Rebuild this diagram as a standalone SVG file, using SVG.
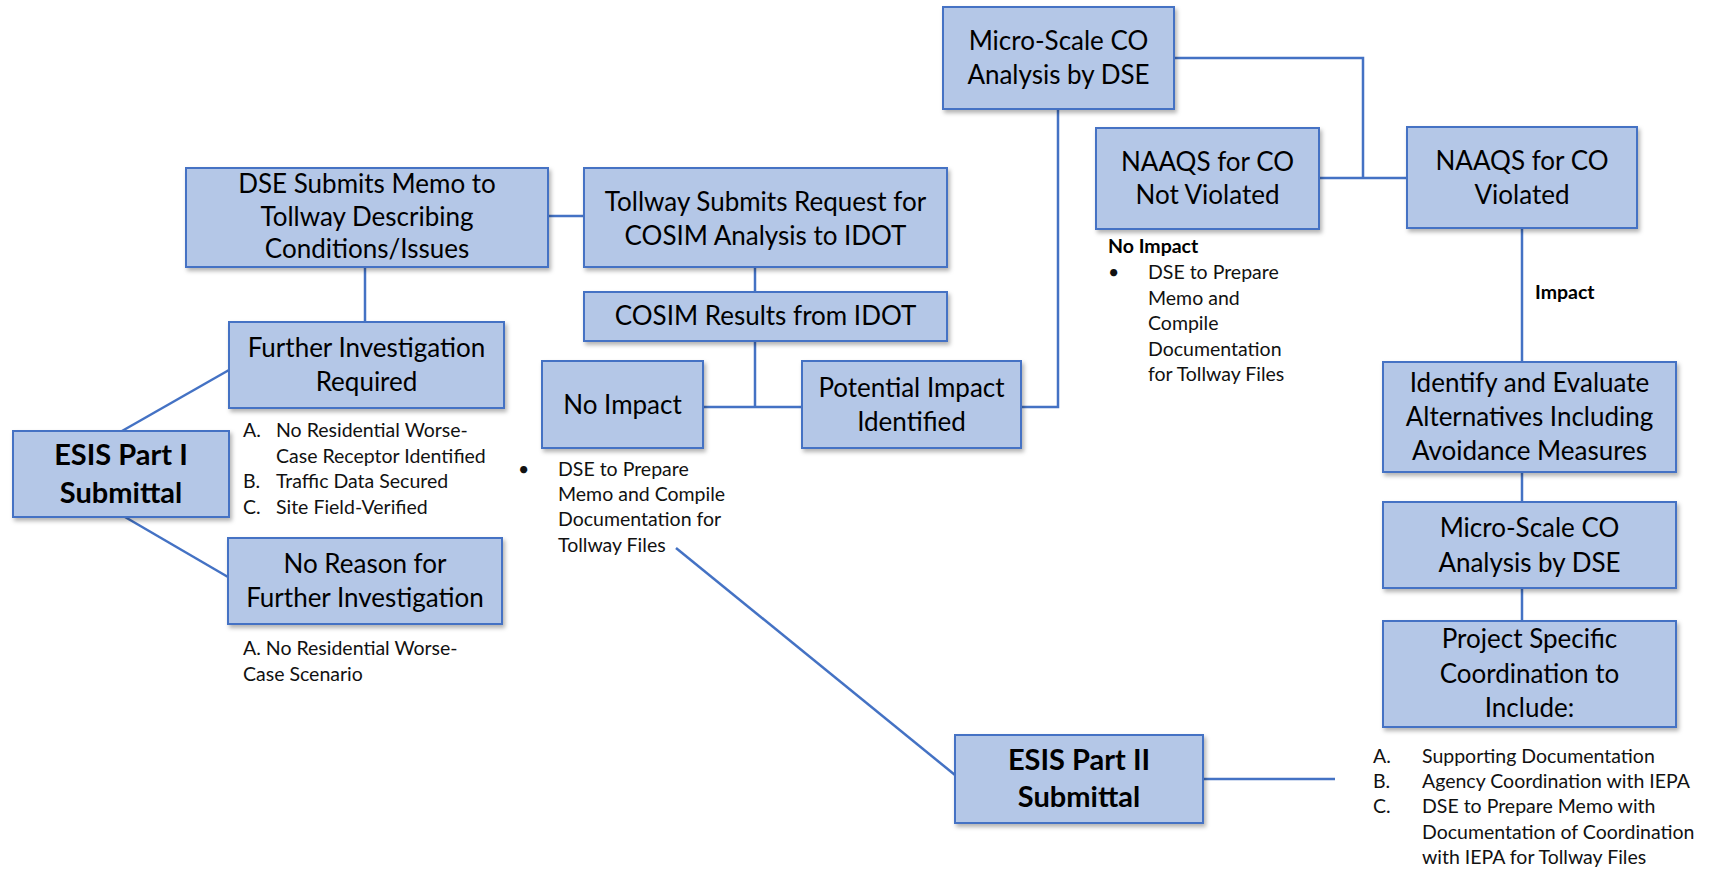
<svg xmlns="http://www.w3.org/2000/svg" width="1713" height="869" viewBox="0 0 1713 869">
<style>
.box{fill:#B4C7E7;stroke:#4472C4;stroke-width:2;filter:url(#sh)}
.bt{font-family:Lato,"Open Sans",sans-serif;font-size:26px;fill:#000;text-anchor:middle}
.bb{font-family:Lato,"Open Sans",sans-serif;font-size:29px;font-weight:bold;fill:#000;text-anchor:middle}
.lt{font-family:Lato,"Open Sans",sans-serif;font-size:19.5px;fill:#111}
.lb{font-family:Lato,"Open Sans",sans-serif;font-size:19.5px;font-weight:bold;fill:#000}
.cn{fill:none;stroke:#4472C4;stroke-width:2.5}
</style>
<defs>
<filter id="sh" x="-10%" y="-10%" width="125%" height="130%">
<feDropShadow dx="2" dy="3" stdDeviation="2" flood-color="#000" flood-opacity="0.3"/>
</filter>
</defs>
<rect width="1713" height="869" fill="#fff"/>
<g id="connectors">
<path class="cn" d="M548 216 H584"/>
<path class="cn" d="M365 267 V322"/>
<path class="cn" d="M122 431 L229 370"/>
<path class="cn" d="M125 517 L228 577"/>
<path class="cn" d="M755 267 V292"/>
<path class="cn" d="M755 341 V407"/>
<path class="cn" d="M703 407 H802"/>
<path class="cn" d="M1021 407 H1058 V109"/>
<path class="cn" d="M1174 58 H1363 V178"/>
<path class="cn" d="M1319 178 H1407"/>
<path class="cn" d="M1522 228 V362"/>
<path class="cn" d="M1522 472 V502"/>
<path class="cn" d="M1522 588 V621"/>
<path class="cn" d="M676 548 L955 775"/>
<path class="cn" d="M1203 779 H1335"/>
</g>
<g id="dse-memo">
<rect class="box" x="186" y="168" width="362" height="99"/>
<text class="bt" x="367" y="193">DSE Submits Memo to</text>
<text class="bt" x="367" y="226">Tollway Describing</text>
<text class="bt" x="367" y="258">Conditions/Issues</text>
</g>
<g id="tollway-request">
<rect class="box" x="584" y="168" width="363" height="99"/>
<text class="bt" x="765.5" y="211">Tollway Submits Request for</text>
<text class="bt" x="765.5" y="245">COSIM Analysis to IDOT</text>
</g>
<g id="cosim-results">
<rect class="box" x="584" y="292" width="363" height="49"/>
<text class="bt" x="765.5" y="325">COSIM Results from IDOT</text>
</g>
<g id="further-investigation">
<rect class="box" x="229" y="322" width="275" height="86"/>
<text class="bt" x="366.5" y="357">Further Investigation</text>
<text class="bt" x="366.5" y="391">Required</text>
<text class="lt" x="243" y="437">A.</text><text class="lt" x="276" y="437">No Residential Worse-</text>
<text class="lt" x="276" y="463">Case Receptor Identified</text>
<text class="lt" x="243" y="488">B.</text><text class="lt" x="276" y="488">Traffic Data Secured</text>
<text class="lt" x="243" y="514">C.</text><text class="lt" x="276" y="514">Site Field-Verified</text>
</g>
<g id="esis-part-1">
<rect class="box" x="13" y="431" width="216" height="86"/>
<text class="bb" x="121" y="465">ESIS Part I</text>
<text class="bb" x="121" y="503">Submittal</text>
</g>
<g id="no-reason">
<rect class="box" x="228" y="538" width="274" height="86"/>
<text class="bt" x="365" y="573">No Reason for</text>
<text class="bt" x="365" y="607">Further Investigation</text>
<text class="lt" x="243" y="655">A. No Residential Worse-</text>
<text class="lt" x="243" y="681">Case Scenario</text>
</g>
<g id="no-impact">
<rect class="box" x="542" y="361" width="161" height="87"/>
<text class="bt" x="622.5" y="414">No Impact</text>
<text class="lt" x="518" y="476">•</text>
<text class="lt" x="558" y="476">DSE to Prepare</text>
<text class="lt" x="558" y="501">Memo and Compile</text>
<text class="lt" x="558" y="526">Documentation for</text>
<text class="lt" x="558" y="552">Tollway Files</text>
</g>
<g id="potential-impact">
<rect class="box" x="802" y="361" width="219" height="87"/>
<text class="bt" x="911.5" y="397">Potential Impact</text>
<text class="bt" x="911.5" y="431">Identified</text>
</g>
<g id="micro-scale-1">
<rect class="box" x="943" y="7" width="231" height="102"/>
<text class="bt" x="1058.5" y="50">Micro-Scale CO</text>
<text class="bt" x="1058.5" y="84">Analysis by DSE</text>
</g>
<g id="naaqs-not-violated">
<rect class="box" x="1096" y="128" width="223" height="101"/>
<text class="bt" x="1207.5" y="171">NAAQS for CO</text>
<text class="bt" x="1207.5" y="204">Not Violated</text>
<text class="lb" x="1108" y="253">No Impact</text>
<text class="lt" x="1108" y="279">•</text>
<text class="lt" x="1148" y="279">DSE to Prepare</text>
<text class="lt" x="1148" y="305">Memo and</text>
<text class="lt" x="1148" y="330">Compile</text>
<text class="lt" x="1148" y="356">Documentation</text>
<text class="lt" x="1148" y="381">for Tollway Files</text>
</g>
<g id="naaqs-violated">
<rect class="box" x="1407" y="127" width="230" height="101"/>
<text class="bt" x="1522" y="170">NAAQS for CO</text>
<text class="bt" x="1522" y="204">Violated</text>
<text class="lb" x="1535" y="299">Impact</text>
</g>
<g id="identify-evaluate">
<rect class="box" x="1383" y="362" width="293" height="110"/>
<text class="bt" x="1529.5" y="392">Identify and Evaluate</text>
<text class="bt" x="1529.5" y="426">Alternatives Including</text>
<text class="bt" x="1529.5" y="460">Avoidance Measures</text>
</g>
<g id="micro-scale-2">
<rect class="box" x="1383" y="502" width="293" height="86"/>
<text class="bt" x="1529.5" y="537">Micro-Scale CO</text>
<text class="bt" x="1529.5" y="572">Analysis by DSE</text>
</g>
<g id="project-specific">
<rect class="box" x="1383" y="621" width="293" height="106"/>
<text class="bt" x="1529.5" y="648">Project Specific</text>
<text class="bt" x="1529.5" y="683">Coordination to</text>
<text class="bt" x="1529.5" y="717">Include:</text>
<text class="lt" x="1373" y="763">A.</text><text class="lt" x="1422" y="763">Supporting Documentation</text>
<text class="lt" x="1373" y="788">B.</text><text class="lt" x="1422" y="788">Agency Coordination with IEPA</text>
<text class="lt" x="1373" y="813">C.</text><text class="lt" x="1422" y="813">DSE to Prepare Memo with</text>
<text class="lt" x="1422" y="839">Documentation of Coordination</text>
<text class="lt" x="1422" y="864">with IEPA for Tollway Files</text>
</g>
<g id="esis-part-2">
<rect class="box" x="955" y="735" width="248" height="88"/>
<text class="bb" x="1079" y="770">ESIS Part II</text>
<text class="bb" x="1079" y="807">Submittal</text>
</g>
</svg>
